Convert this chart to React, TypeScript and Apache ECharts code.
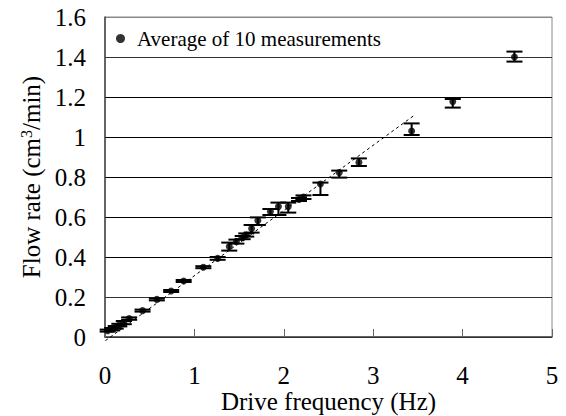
import React, { useEffect, useRef } from "react";
import * as echarts from "echarts";

const freq = [0.03, 0.08, 0.12, 0.16, 0.21, 0.27, 0.42, 0.58, 0.74, 0.88, 1.1, 1.26, 1.39, 1.47, 1.54, 1.58, 1.64, 1.71, 1.85, 1.94, 2.05, 2.17, 2.22, 2.41, 2.62, 2.84, 3.43, 3.89, 4.58];
const flow = [0.032, 0.039, 0.049, 0.06, 0.072, 0.092, 0.132, 0.188, 0.23, 0.28, 0.349, 0.393, 0.452, 0.477, 0.497, 0.51, 0.542, 0.582, 0.627, 0.652, 0.652, 0.688, 0.7, 0.765, 0.822, 0.873, 1.03, 1.177, 1.4];
const upper = [0.037, 0.045, 0.055, 0.066, 0.08, 0.098, 0.137, 0.193, 0.235, 0.285, 0.354, 0.4, 0.472, 0.487, 0.505, 0.518, 0.56, 0.598, 0.64, 0.672, 0.672, 0.695, 0.708, 0.772, 0.832, 0.893, 1.068, 1.19, 1.427];
const lower = [0.027, 0.033, 0.042, 0.053, 0.064, 0.086, 0.127, 0.183, 0.225, 0.275, 0.344, 0.386, 0.432, 0.467, 0.489, 0.502, 0.522, 0.56, 0.61, 0.61, 0.622, 0.68, 0.69, 0.71, 0.797, 0.855, 1.01, 1.147, 1.377];
const fitX = [-0.05, 3.47];
const fitY = [-0.036, 1.112];

const FONT = "Liberation Serif, Times New Roman, serif";
const LEGEND_NAME = "Average of 10 measurements";

export default function App() {
  const ref = useRef<HTMLDivElement>(null);
  useEffect(() => {
    if (!ref.current) return;
    const chart = echarts.init(ref.current, null, { renderer: "svg" });
    const errData = freq.map((f, i) => [f, lower[i], upper[i]]);
    const ptData = freq.map((f, i) => [f, flow[i]]);
    const fitData = fitX.map((x, i) => [x, fitY[i]]);
    chart.setOption({
      animation: false,
      backgroundColor: "#fff",
      textStyle: { fontFamily: FONT },
      grid: {
        left: 105,
        right: 14,
        top: 17,
        bottom: 79,
        show: true,
        borderColor: "#888",
        borderWidth: 1,
        containLabel: false,
        outerBoundsMode: "none",
      },
      legend: {
        data: [LEGEND_NAME],
        left: 111,
        top: 23,
        icon: "circle",
        itemWidth: 9,
        itemHeight: 9,
        textStyle: { fontFamily: FONT, fontSize: 21, color: "#000", padding: [0, 0, 0, 7] },
      },
      xAxis: {
        type: "value",
        min: 0,
        max: 5,
        interval: 1,
        name: "Drive frequency (Hz)",
        nameLocation: "middle",
        nameGap: 54,
        nameMoveOverlap: false,
        nameTextStyle: { fontFamily: FONT, fontSize: 25, lineHeight: 20, color: "#000" },
        axisLine: { show: true, lineStyle: { color: "#444", width: 1.5 } },
        axisTick: { show: true, inside: true, length: 8, lineStyle: { color: "#666" } },
        axisLabel: { fontFamily: FONT, fontSize: 25, lineHeight: 20, color: "#000", margin: 28 },
        splitLine: { show: false },
      },
      yAxis: {
        type: "value",
        min: 0,
        max: 1.6,
        interval: 0.2,
        name: "Flow rate (cm{sup|3}/min)",
        nameLocation: "middle",
        nameRotate: 90,
        nameGap: 60,
        nameTextStyle: {
          fontFamily: FONT,
          fontSize: 25,
          color: "#000",
          rich: { sup: { fontFamily: FONT, fontSize: 16, verticalAlign: "top", color: "#000" } },
        },
        axisLine: { show: true, lineStyle: { color: "#444", width: 1.5 } },
        axisTick: { show: false },
        axisLabel: { fontFamily: FONT, fontSize: 25, color: "#000", margin: 19 },
        splitLine: {
          show: true,
          lineStyle: { color: ["#000", "#333", "#000", "#000", "#000", "#000", "#000", "#333", "#888"], width: 1 },
        },
      },
      series: [
        {
          type: "line",
          data: fitData,
          clip: false,
          symbol: "none",
          silent: true,
          lineStyle: { color: "#000", width: 1, type: [3, 3] },
          z: 1,
        },
        {
          type: "custom",
          data: errData,
          encode: { x: 0, y: [1, 2] },
          z: 2,
          renderItem: (params: any, api: any) => {
            const x = api.value(0);
            const lo = api.coord([x, api.value(1)]);
            const hi = api.coord([x, api.value(2)]);
            const hw = 8;
            const style = { stroke: "#000", lineWidth: 2 };
            return {
              type: "group",
              children: [
                { type: "line", shape: { x1: lo[0], y1: lo[1], x2: hi[0], y2: hi[1] }, style },
                { type: "line", shape: { x1: hi[0] - hw, y1: hi[1], x2: hi[0] + hw, y2: hi[1] }, style },
                { type: "line", shape: { x1: lo[0] - hw, y1: lo[1], x2: lo[0] + hw, y2: lo[1] }, style },
              ],
            };
          },
        },
        {
          name: LEGEND_NAME,
          type: "scatter",
          data: ptData,
          symbol: "circle",
          symbolSize: 7,
          itemStyle: { color: "#000" },
          z: 3,
        },
      ],
    });
    return () => chart.dispose();
  }, []);
  return <div ref={ref} style={{ position: "fixed", left: 0, top: 0, width: 566, height: 416 }} />;
}
